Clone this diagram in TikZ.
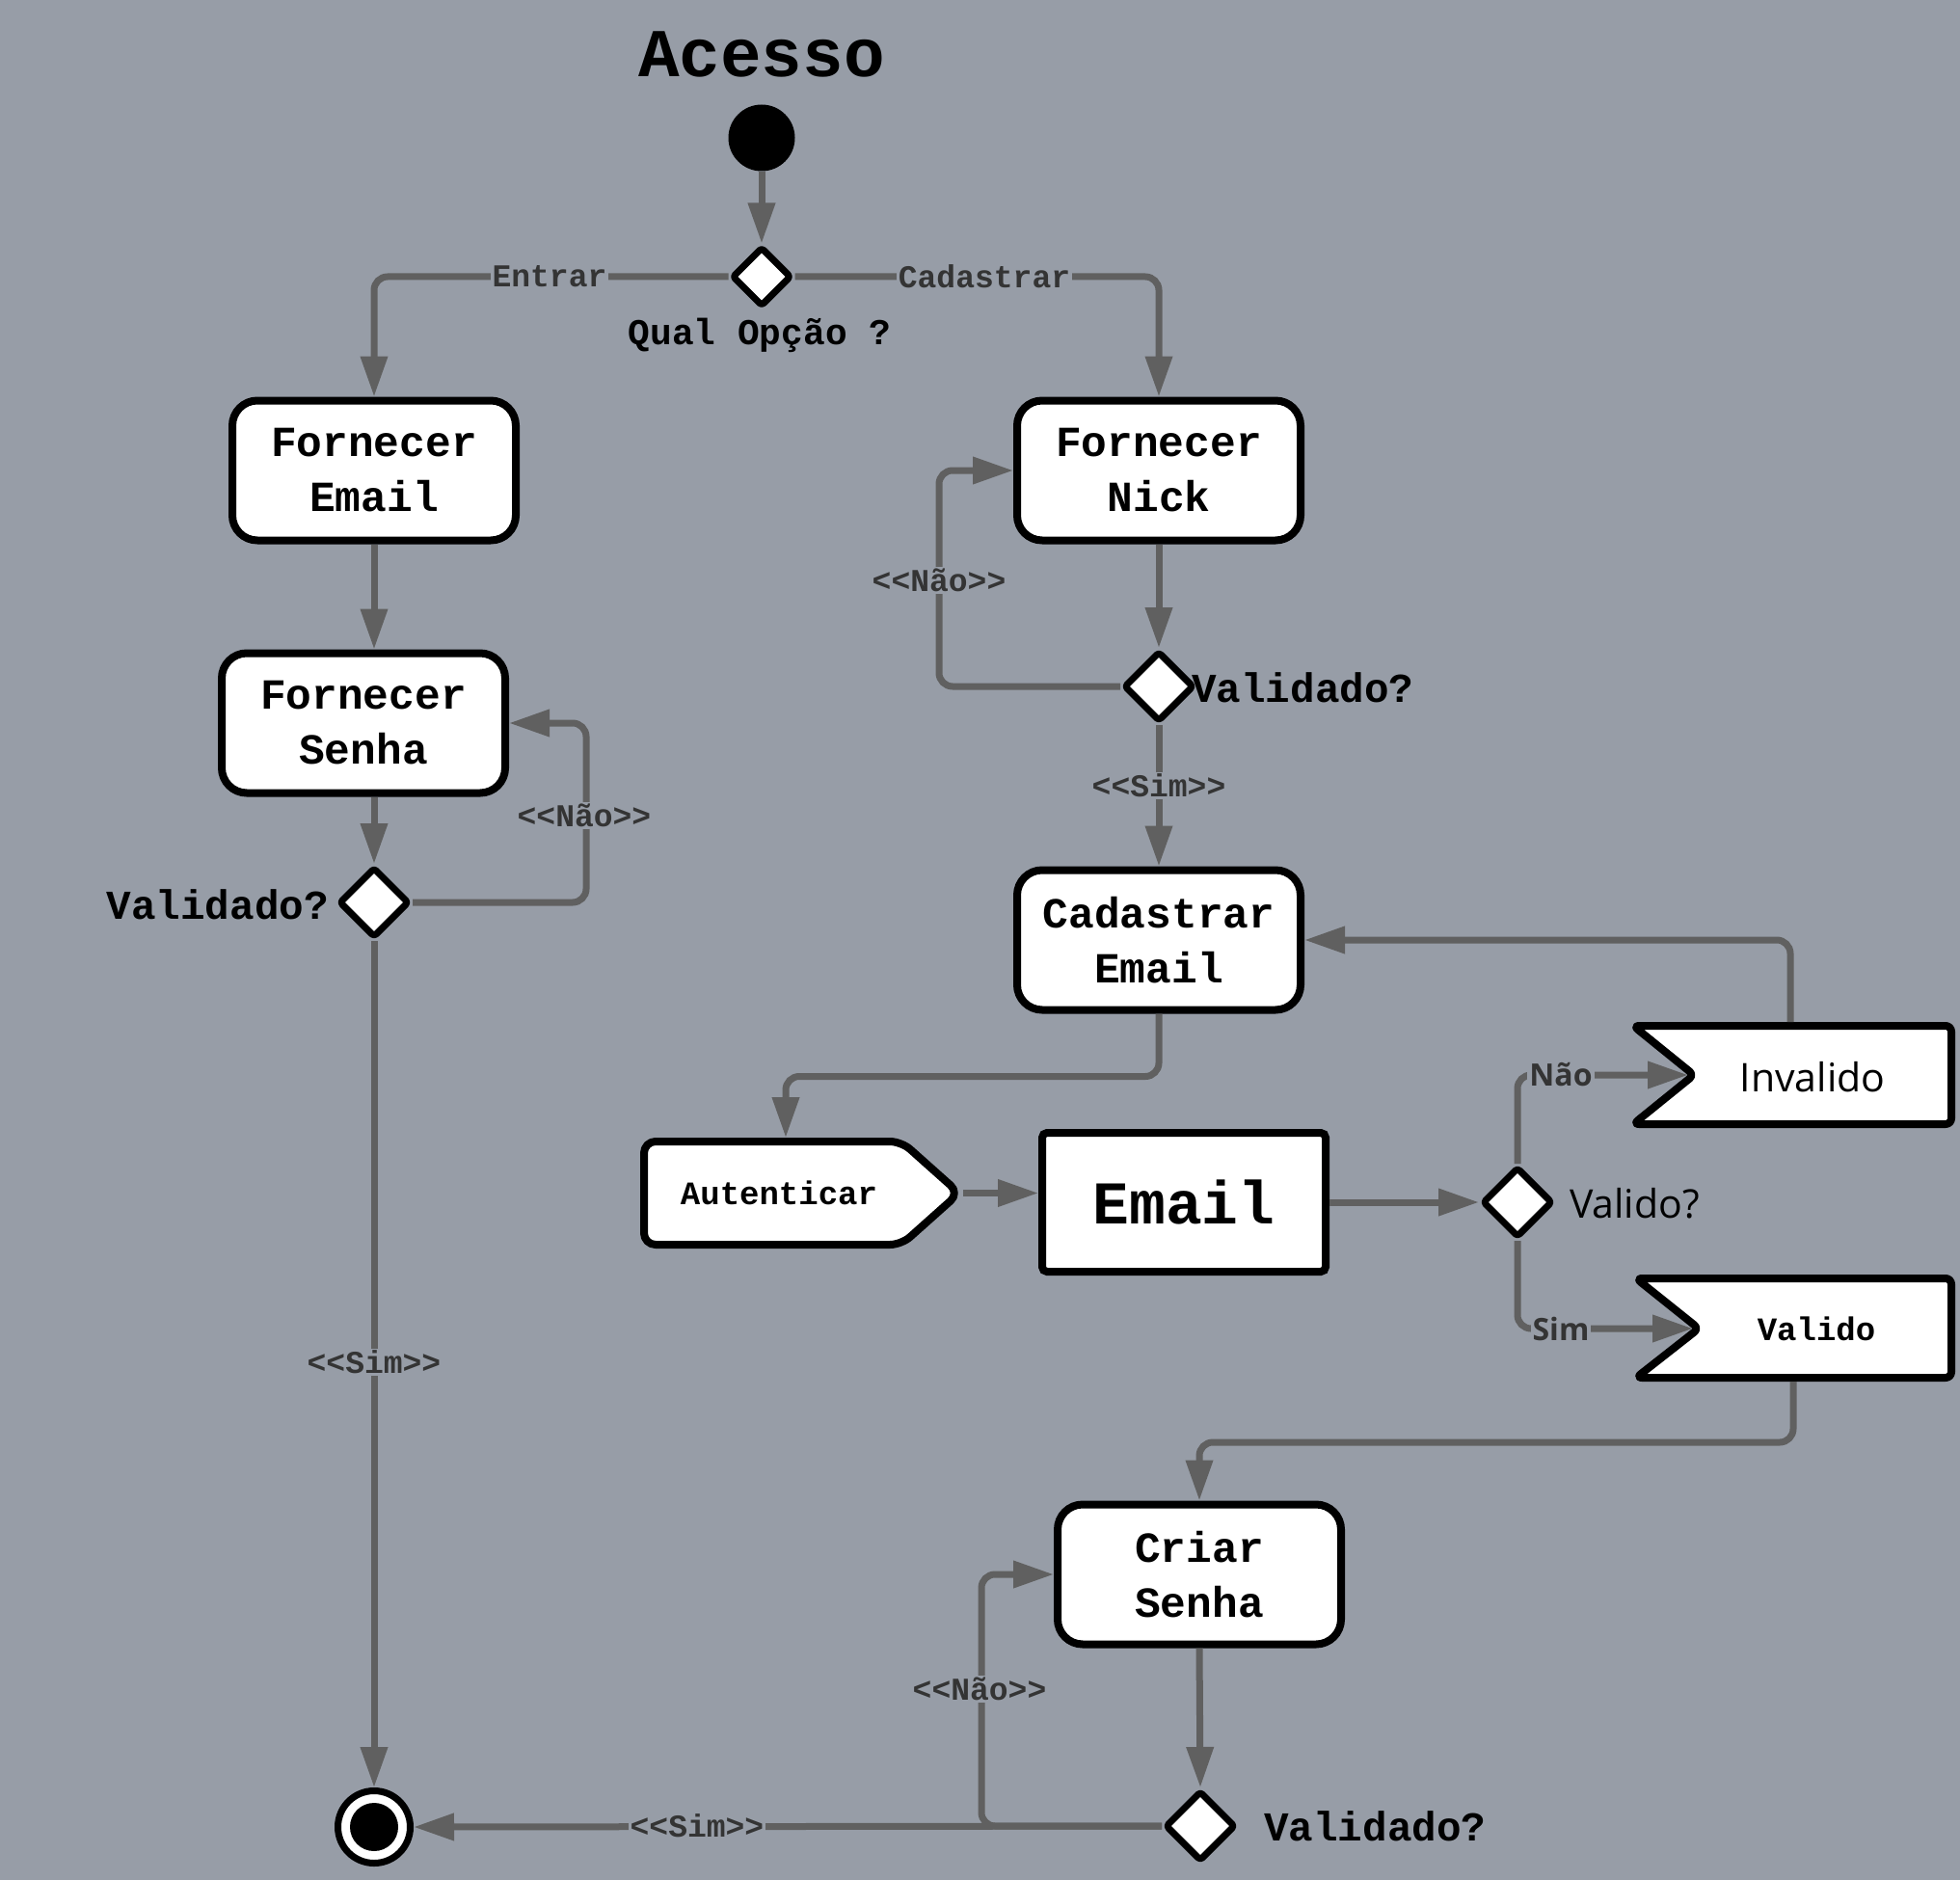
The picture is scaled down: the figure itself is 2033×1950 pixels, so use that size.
\documentclass[tikz,border=0pt]{standalone}
\usepackage{fontspec}
\setmonofont{Liberation Mono}
\newfontfamily\osans{Open Sans}
\usetikzlibrary{arrows.meta,shapes.geometric}
\definecolor{bg}{RGB}{151,157,167}
\definecolor{linec}{RGB}{96,96,96}
\definecolor{labc}{RGB}{52,52,52}
\newcommand{\fsz}[2]{\fontsize{#1}{#2}\selectfont}
\begin{document}
\begin{tikzpicture}[x=1pt,y=-1pt,
  box/.style={draw=black,fill=white,line width=8pt,rounded corners=26pt,minimum width=294pt,minimum height=145pt,inner sep=0pt,align=center,font=\ttfamily\bfseries\fsz{44.5}{57}},
  dec/.style={diamond,draw=black,fill=white,line width=7pt,line join=round,rounded corners=3pt,inner sep=0pt,minimum width=73pt,minimum height=73pt},
  conn/.style={draw=linec,line width=7pt,rounded corners=14pt,-{Triangle[length=42pt,width=27pt]}},
  sig/.style={draw=black,fill=white,line width=8pt,line join=round,rounded corners=6pt},
  lab/.style={fill=bg,inner sep=2pt,text=labc,font=\ttfamily\bfseries\fsz{33}{40}},
  qlab/.style={text=black,inner sep=0pt,font=\ttfamily\bfseries\fsz{42.6}{50}},
]
\fill[bg] (0,0) rectangle (2033,1950);
\useasboundingbox (0,0) rectangle (2033,1950);

% nodes
\node[font=\ttfamily\bfseries\fsz{71}{80},inner sep=0pt] (title) at (790,56) {Acesso};
\node[circle,fill=black,minimum size=69pt,inner sep=0pt] (start) at (790,143) {};
\node[dec,minimum width=62pt,minimum height=62pt] (d1) at (790,287) {};
\node[qlab,font=\ttfamily\bfseries\fsz{37.8}{45}] (qual) at (788,348) {Qual Opção ?};

\node[box] (fe) at (388,488) {Fornecer\\Email};
\node[box] (fs) at (377,750) {Fornecer\\Senha};
\node[dec] (d2) at (388,936) {};
\node[qlab,anchor=east] (v2) at (341,938) {Validado?};
\node[circle,draw=black,fill=white,line width=7pt,minimum size=75pt,inner sep=0pt] (end) at (388,1895) {};
\node[circle,fill=black,minimum size=50pt,inner sep=0pt] (endin) at (end.center) {};

\node[box] (fn) at (1202,488) {Fornecer\\Nick};
\node[dec] (d3) at (1202,712) {};
\node[qlab,anchor=west] (v3) at (1236,713) {Validado?};
\node[box] (ce) at (1202,975) {Cadastrar\\Email};

\draw[sig,rounded corners=12pt] (668,1184) -- (935,1184) -- (995,1237.5) -- (935,1291) -- (668,1291) -- cycle;
\node[font=\ttfamily\bfseries\fsz{34}{40}] (aut) at (808,1237) {Autenticar};
\coordinate (autTop) at (815,1180);
\coordinate (autTip) at (999,1237.5);

\node[draw=black,fill=white,line width=8pt,rounded corners=5pt,minimum width=294pt,minimum height=144pt,inner sep=0pt,font=\ttfamily\bfseries\fsz{63}{70}] (em) at (1228,1247) {Email};

\node[dec] (d4) at (1574,1247) {};
\node[anchor=west,inner sep=0pt,font=\osans\fsz{41}{48}] (v4) at (1628,1248) {Valido?};

\draw[sig] (1694,1064) -- (2024,1064) -- (2024,1166) -- (1694,1166) -- (1757,1115) -- cycle;
\node[font=\osans\fsz{41}{48}] (inv) at (1880,1117) {Invalido};
\coordinate (invNotch) at (1751,1115);
\coordinate (invTop) at (1857,1060);

\draw[sig] (1697,1326) -- (2024,1326) -- (2024,1429) -- (1697,1429) -- (1762,1378) -- cycle;
\node[font=\ttfamily\bfseries\fsz{34}{40}] (val) at (1884,1378) {Valido};
\coordinate (valNotch) at (1756,1378);
\coordinate (valBot) at (1860,1433);

\node[box] (cs) at (1244,1633) {Criar\\Senha};
\node[dec] (d5) at (1245,1894) {};
\node[qlab,anchor=west] (v5) at (1311,1894) {Validado?};

\coordinate (k2) at (608,936);
\coordinate (k3) at (974,712);
\coordinate (k5) at (1018,1894);

% connectors
\draw[conn] (start) -- (d1);
\draw[conn] (d1.west) -| (fe.north);
\draw[conn] (d1.east) -| (fn.north);
\draw[conn] (fe.south) -- (fe.south |- fs.north);
\draw[conn] (d2.north |- fs.south) -- (d2.north);
\draw[conn] (d2.east) -- (k2) |- (fs.east);
\draw[conn] (d2.south) -- (end.north);
\draw[conn] (fn.south) -- (d3.north);
\draw[conn] (d3.west) -- (k3) |- (fn.west);
\draw[conn] (d3.south) -- (ce.north);
\draw[conn] (ce.south) -- ++(0,65) -| (autTop);
\draw[conn] (autTip) -- (autTip -| em.west);
\draw[conn] (em.east |- d4.west) -- (d4.west);
\draw[conn] (d4.north) |- (invNotch);
\draw[conn] (d4.south) |- (valNotch);
\draw[conn] (invTop) |- (ce.east);
\draw[conn] (valBot) -- ++(0,63) -| (cs.north);
\draw[conn] (cs.south) -- (d5.north);
\draw[conn] (d5.west) -- (k5) |- (cs.west);
\draw[conn] (d5.west) -- (end.east);

% labels
\node[lab] (lEntrar) at (570,287) {Entrar};
\node[lab] (lCad) at (1021,287) {Cadastrar};
\node[lab] (lNao1) at (606,846) {<<Não>>};
\node[lab] (lSim1) at (388,1413) {<<Sim>>};
\node[lab] (lNao2) at (974,602) {<<Não>>};
\node[lab] (lSim2) at (1202,815) {<<Sim>>};
\node[lab] (lNao3) at (1016,1752) {<<Não>>};
\node[lab] (lSim3) at (723,1894) {<<Sim>>};
\node[lab,font=\osans\bfseries\fsz{32}{38}] (lNao4) at (1619,1115) {Não};
\node[lab,font=\osans\bfseries\fsz{32}{38}] (lSim4) at (1619,1378) {Sim};
\end{tikzpicture}
\end{document}
